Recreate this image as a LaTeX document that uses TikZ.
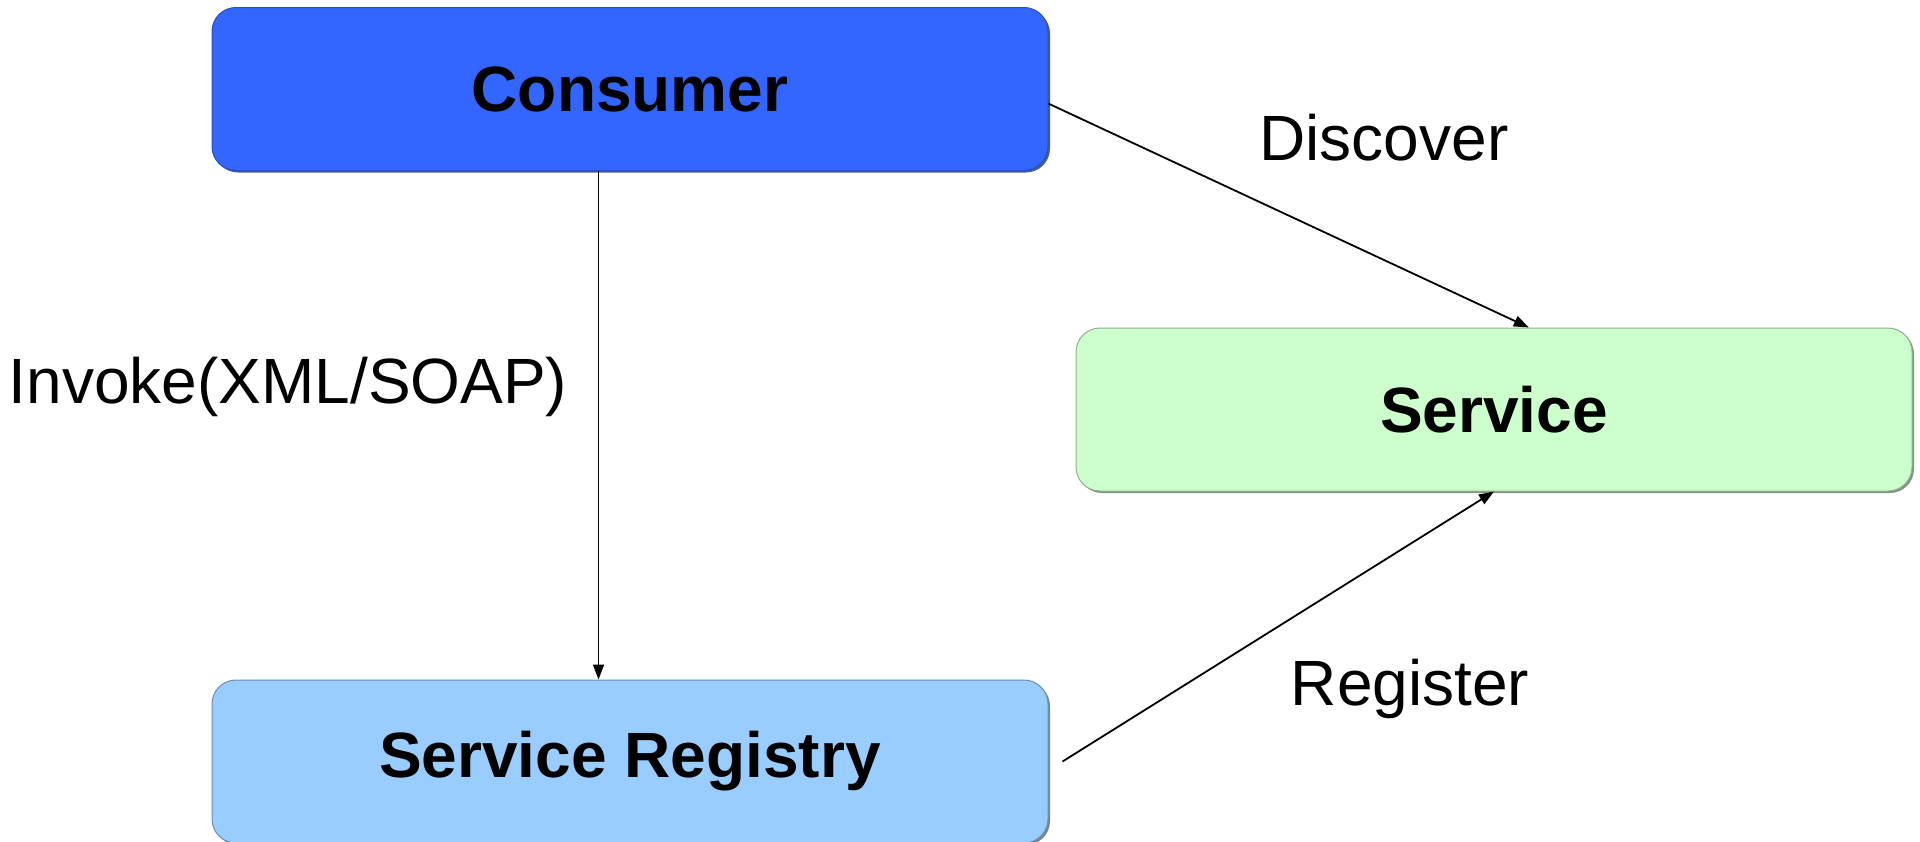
\documentclass[tikz,border=0pt]{standalone}
\usepackage{fontspec}
\setmainfont{Liberation Sans}
\usepackage{tikz}
\usetikzlibrary{arrows.meta,shadows}

\definecolor{consumerblue}{HTML}{3366FF}
\definecolor{registryblue}{HTML}{99CCFF}
\definecolor{servicegreen}{HTML}{CCFFCC}

\tikzset{
    soabox/.style={
        rounded corners=24pt,
        line width=1pt,
        minimum width=836pt,
        minimum height=163pt,
        font=\fontsize{64}{70}\selectfont\bfseries,
    },
    soaarrow/.style={-{Triangle[length=15pt,width=11pt]}, line width=1.8pt},
    soalabel/.style={anchor=base, font=\fontsize{64}{70}\selectfont},
}

\begin{document}
\begin{tikzpicture}[x=1pt,y=-1pt]
        \useasboundingbox[fill=white] (0,0) rectangle (1920,841);

        % Consumer
        \node [soabox,
            draw=consumerblue!75!black,
            fill=consumerblue,
            drop shadow={shadow xshift=2pt, shadow yshift=-2pt, fill=consumerblue!50!black, opacity=0.8},
        ] (consumer) at (630,89) {Consumer};

        % Service
        \node [soabox,
            draw=servicegreen!70!black,
            fill=servicegreen,
            drop shadow={shadow xshift=2pt, shadow yshift=-2pt, fill=servicegreen!40!black, opacity=0.7},
        ] (service) at (1494,409.5) {Service};

        % Service Registry
        \node [soabox,
            draw=registryblue!70!black,
            fill=registryblue,
            drop shadow={shadow xshift=2pt, shadow yshift=-2pt, fill=registryblue!40!black, opacity=0.7},
        ] (registry) at (630,761.5) {Service Registry};

        \draw[soaarrow] (consumer.-111.6)--(consumer.-111.6|-registry.north);
        \draw[soaarrow] (consumer.-2.6)--(service.67.9);
        \draw[soaarrow] ([xshift=14pt]registry.east)--(service.south);

        % labels
        \node [soalabel] (discoverlabel) at (1384,160) {Discover};
        \node [soalabel] (invokelabel) at (288,403) {Invoke(XML/SOAP)};
        \node [soalabel] (registerlabel) at (1410,705) {Register};
\end{tikzpicture}
\end{document}
